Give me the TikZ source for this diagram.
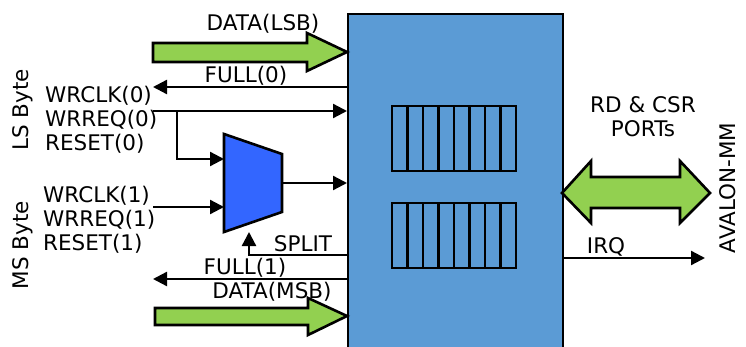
\documentclass[tikz,border=0pt]{standalone}
\usepackage{fontspec}
\setmainfont{DejaVu Sans}
\usetikzlibrary{arrows.meta}
\definecolor{fpgablue}{RGB}{91,155,213}
\definecolor{muxblue}{RGB}{51,102,255}
\definecolor{busgreen}{RGB}{146,208,80}
\begin{document}
\begin{tikzpicture}[x=1pt, y=-1pt, line width=2.3pt,
  sig/.style={-{Triangle[length=14pt,width=14pt]}},
  lbl/.style={inner sep=0pt, font=\fontsize{21.5}{24}\selectfont},
  bus/.style={draw, fill=busgreen, line width=2.6pt}]
\useasboundingbox (0,0) rectangle (746,347);

\node[draw, fill=fpgablue, minimum width=215pt, minimum height=345pt, anchor=north west, inner sep=0pt] (fpga) at (347,13) {};

\foreach \y in {106,203}
  \foreach \i in {0,...,7}
    \draw[line width=2.6pt] (392+\i*15.5,\y) rectangle ++(15.5,65);

\draw[bus] (153,43) -- (307,43) -- (307,33) -- (347,52) -- (307,71) -- (307,62) -- (153,62) -- cycle;
\draw[bus] (155,308) -- (308,308) -- (308,298) -- (347,316) -- (308,335) -- (308,325) -- (155,325) -- cycle;
\draw[bus] (562,193) -- (591,161) -- (591,177) -- (680,177) -- (680,161) -- (710,193) -- (680,223) -- (680,208) -- (591,208) -- (591,223) -- cycle;

\draw[fill=muxblue, line width=2.6pt] (224,134) -- (282,154) -- (282,212) -- (224,232) -- cycle;

\coordinate (f0) at (153,87);
\coordinate (wq0) at (153,111);
\coordinate (br0) at (177,111);
\coordinate (mi0) at (224,159);
\coordinate (w1) at (153,207);
\coordinate (mi1) at (224,207);
\coordinate (mo) at (282,183);
\coordinate (sp) at (347,255);
\coordinate (ms) at (249,232);
\coordinate (f1) at (153,279);
\coordinate (irq) at (705,258);

\draw[sig] (fpga.west |- f0) -- (f0);
\draw[sig] (wq0) -- (wq0 -| fpga.west);
\draw[sig] (br0) |- (mi0);
\draw[sig] (w1) -- (mi1);
\draw[sig] (mo) -- (mo -| fpga.west);
\draw[sig] (sp) -| (ms);
\draw[sig] (fpga.west |- f1) -- (f1);
\draw[sig] (fpga.east |- irq) -- (irq);

\node[lbl] (dlsb) at (263,24) {DATA(LSB)};
\node[lbl] (full0) at (246,76) {FULL(0)};
\node[lbl, align=left, anchor=west] (lsig) at (44,120) {WRCLK(0)\\WRREQ(0)\\RESET(0)};
\node[lbl, rotate=90] (lsb) at (23,110) {LS Byte};
\node[lbl, align=left, anchor=west] (msig) at (42,220) {WRCLK(1)\\WRREQ(1)\\RESET(1)};
\node[lbl, rotate=90] (msb) at (23,245) {MS Byte};
\node[lbl] (split) at (303,244) {SPLIT};
\node[lbl] (full1) at (245,268) {FULL(1)};
\node[lbl] (dmsb) at (272,292) {DATA(MSB)};
\node[lbl, align=center] (ports) at (643,117) {RD \& CSR\\ PORTs};
\node[lbl, rotate=90] (avmm) at (728,188) {AVALON-MM};
\node[lbl] (irqt) at (606,247) {IRQ};
\end{tikzpicture}
\end{document}
